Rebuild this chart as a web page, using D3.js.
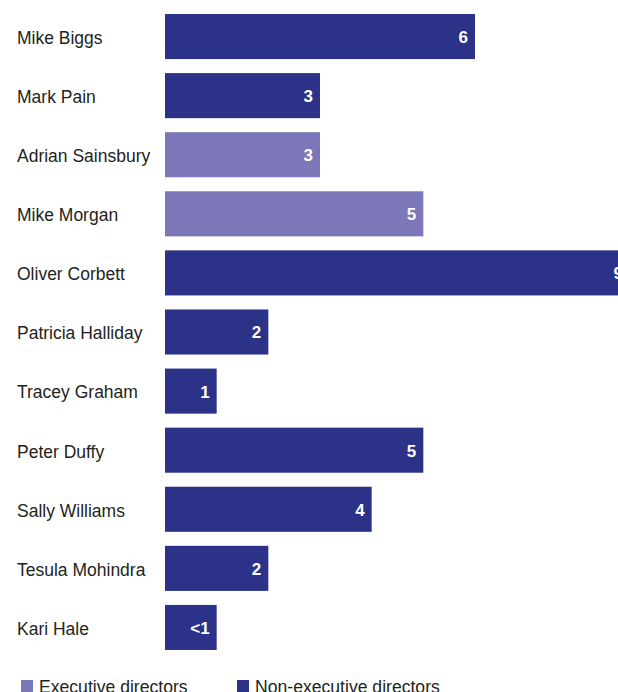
<!DOCTYPE html>
<html>
<head>
<meta charset="utf-8">
<script src="https://cdn.jsdelivr.net/npm/d3@7"></script>
<style>
  body { margin: 0; background: #fff; }
  svg { display: block; font-family: "Liberation Sans", Arial, Helvetica, sans-serif; }
</style>
</head>
<body>
<svg id="chart" width="618" height="692"></svg>
<script>
// directors, years of service
const names = ["Mike Biggs", "Mark Pain", "Adrian Sainsbury", "Mike Morgan", "Oliver Corbett",
  "Patricia Halliday", "Tracey Graham", "Peter Duffy", "Sally Williams", "Tesula Mohindra", "Kari Hale"]
const years = [6, 3, 3, 5, 9, 2, 1, 5, 4, 2, 1]
const valueLabels = ["6", "3", "3", "5", "9", "2", "1", "5", "4", "2", "<1"]
const roles = ["non", "non", "exec", "exec", "non", "non", "non", "non", "non", "non", "non"]
const legendItems = [
  { key: "exec", label: "Executive directors" },
  { key: "non", label: "Non-executive directors" }
]

const colors = { exec: "#7b77b9", non: "#2b3287" }

const svg = d3.select('#chart')

const x = d3.scaleLinear().domain([0, 9]).range([165, 630])
const y = d3.scaleBand().domain(names).range([14, 650]).paddingInner(14 / 59).paddingOuter(0)

let data = names.map((n, i) => ({ name: n, value: years[i], label: valueLabels[i], role: roles[i] }))

svg.selectAll('.bar')
  .data(data)
  .enter().append('rect')
  .attr('class', 'bar')
  .attr('x', x(0))
  .attr('y', d => y(d.name))
  .attr('width', d => x(d.value) - x(0))
  .attr('height', y.bandwidth())
  .attr('fill', d => colors[d.role])

svg.selectAll('.name')
  .data(data)
  .enter().append('text')
  .attr('class', 'name')
  .attr('x', 17)
  .attr('y', d => y(d.name) + y.bandwidth() / 2)
  .attr('dy', '0.42em')
  .style('font-size', '17.5px')
  .style('fill', '#231f20')
  .text(d => d.name)

svg.selectAll('.val')
  .data(data)
  .enter().append('text')
  .attr('class', 'val')
  .attr('x', d => x(d.value) - 7)
  .attr('y', d => y(d.name) + y.bandwidth() / 2)
  .attr('dy', '0.38em')
  .style('font-size', '17px')
  .style('font-weight', 'bold')
  .style('fill', '#fff')
  .style('text-anchor', 'end')
  .text(d => d.label)

// legend
const legendX = [21, 237]
const legend = svg.selectAll('.legend')
  .data(legendItems)
  .enter().append('g')
  .attr('class', 'legend')
  .attr('transform', (d, i) => 'translate(' + legendX[i] + ',680)')

legend.append('rect')
  .attr('width', 12)
  .attr('height', 12)
  .attr('fill', d => colors[d.key])

legend.append('text')
  .attr('x', 18)
  .attr('y', 13)
  .style('font-size', '17.6px')
  .style('fill', '#231f20')
  .text(d => d.label)
</script>
</body>
</html>
